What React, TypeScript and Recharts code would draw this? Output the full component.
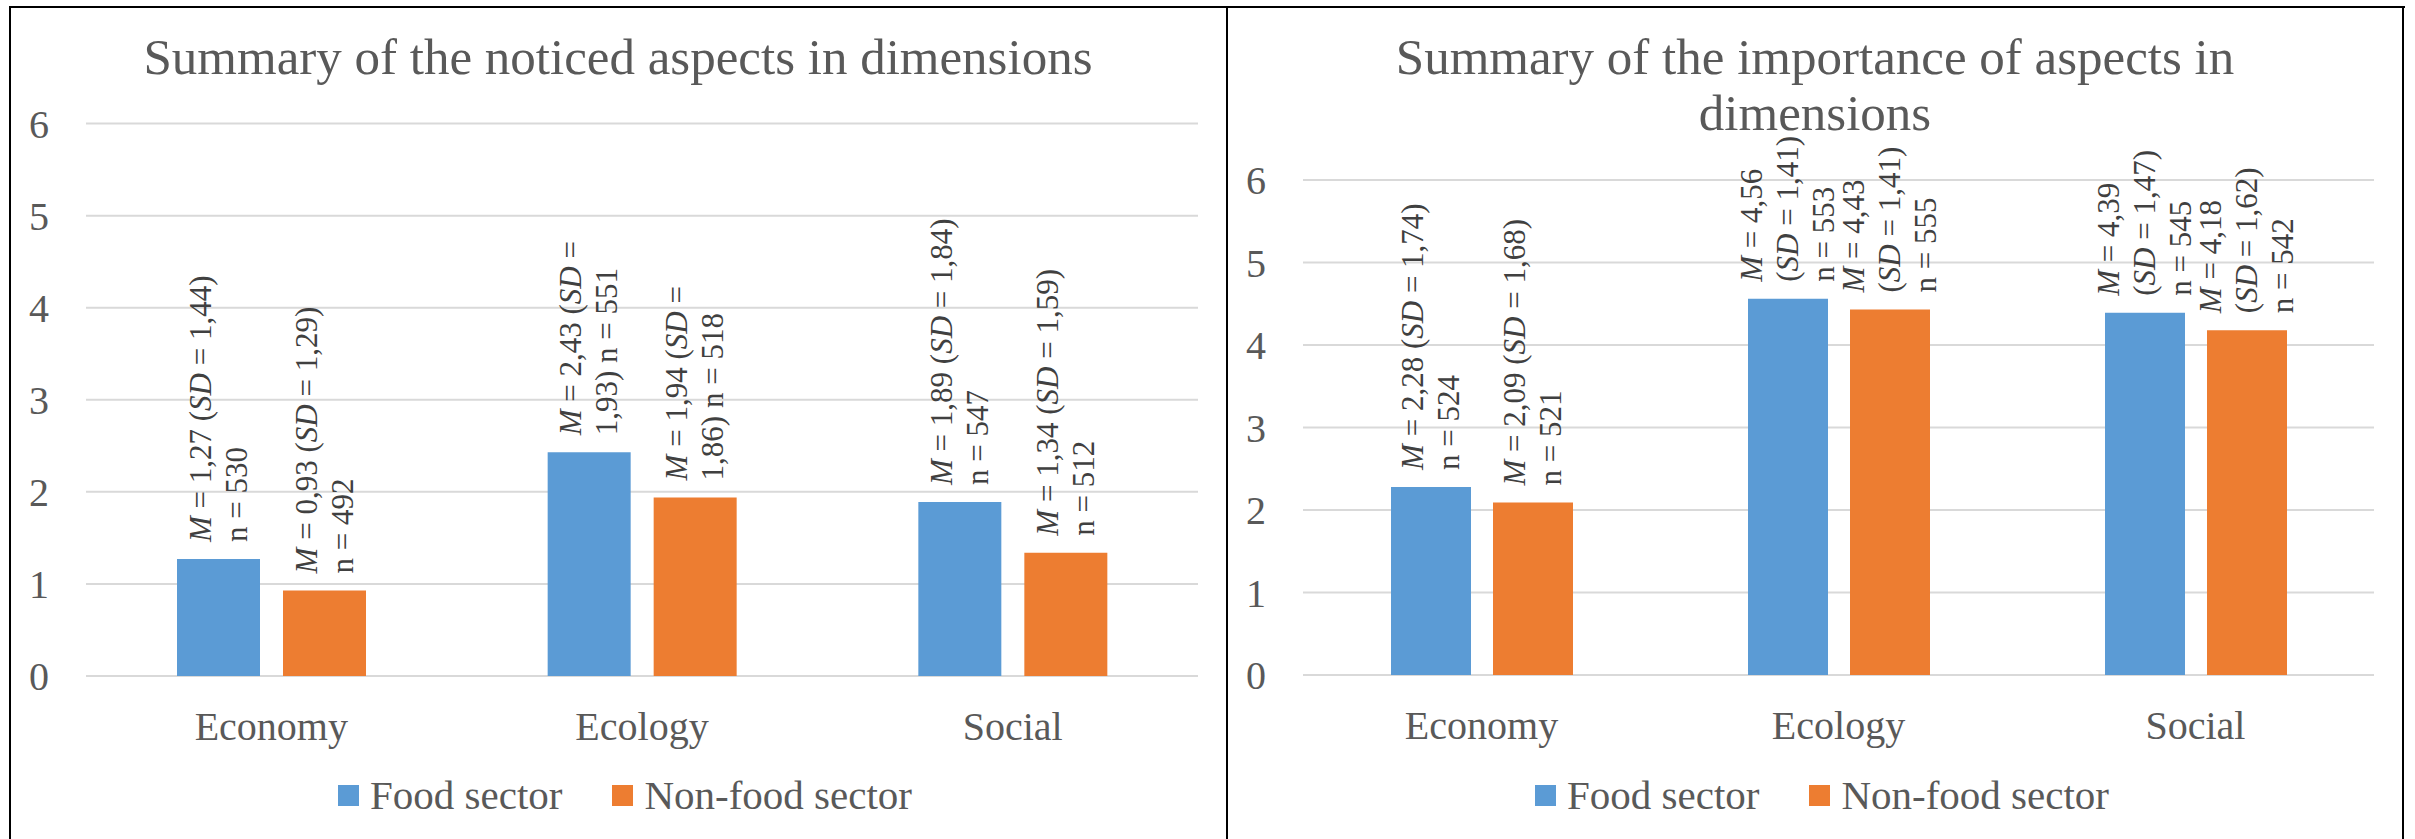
import React from 'react'
import { BarChart, Bar, XAxis, YAxis, CartesianGrid, Legend, LabelList } from 'recharts'

const categories = ['Economy', 'Ecology', 'Social']
const yTicks = [0, 1, 2, 3, 4, 5, 6]

// noticed aspects
const noticedFoodMean = [1.27, 2.43, 1.89]
const noticedFoodSd = [1.44, 1.93, 1.84]
const noticedFoodN = [530, 551, 547]
const noticedNonFoodMean = [0.93, 1.94, 1.34]
const noticedNonFoodSd = [1.29, 1.86, 1.59]
const noticedNonFoodN = [492, 518, 512]

// importance of aspects
const importanceFoodMean = [2.28, 4.56, 4.39]
const importanceFoodSd = [1.74, 1.41, 1.47]
const importanceFoodN = [524, 553, 545]
const importanceNonFoodMean = [2.09, 4.43, 4.18]
const importanceNonFoodSd = [1.68, 1.41, 1.62]
const importanceNonFoodN = [521, 555, 542]

// how the label text wraps per category
const noticedWrap = ['two', 'split', 'two']
const importanceWrap = ['two', 'three', 'three']

const FONT = '"Liberation Serif", "Times New Roman", serif'
const TEXT = '#595959'
const LABEL_TEXT = '#404040'
const BLUE = '#5B9BD5'
const ORANGE = '#ED7D31'
const GRID = '#D9D9D9'

const LABEL_FONT = 31
const LINE_GAP = 36
const LABEL_OFFSET = 17

const fmt = (v: number) => v.toFixed(2).replace('.', ',')

type Seg = { t: string; it?: boolean }

function labelLines(m: number, sd: number, n: number, wrap: string): Seg[][] {
  const M = { t: 'M', it: true }
  const SD = { t: 'SD', it: true }
  if (wrap === 'split') {
    return [[M, { t: ` = ${fmt(m)} (` }, SD, { t: ' =' }], [{ t: `${fmt(sd)}) n = ${n}` }]]
  }
  if (wrap === 'three') {
    return [[M, { t: ` = ${fmt(m)}` }], [{ t: '(' }, SD, { t: ` = ${fmt(sd)})` }], [{ t: `n = ${n}` }]]
  }
  return [[M, { t: ` = ${fmt(m)} (` }, SD, { t: ` = ${fmt(sd)})` }], [{ t: `n = ${n}` }]]
}

// rotated multi-line label sitting on top of a bar
const makeLabel = (means: number[], sds: number[], ns: number[], wrap: string[]) => (props: any) => {
  const vb = props.viewBox || props
  const x = vb.x ?? props.x
  const y = vb.y ?? props.y
  const width = vb.width ?? props.width
  const i = props.index
  const lines = labelLines(means[i], sds[i], ns[i], wrap[i])
  const cx = x + width / 2
  const v0 = LABEL_FONT * 0.33 - ((lines.length - 1) * LINE_GAP) / 2
  return (
    <text
      transform={`translate(${cx},${y - LABEL_OFFSET}) rotate(-90)`}
      fontFamily={FONT}
      fontSize={LABEL_FONT}
      fill={LABEL_TEXT}
      style={{ whiteSpace: 'pre' }}
    >
      {lines.map((segs, li) => (
        <tspan key={li} x={0} y={v0 + li * LINE_GAP}>
          {segs.map((s, si) => (
            <tspan key={si} fontStyle={s.it ? 'italic' : undefined}>{s.t}</tspan>
          ))}
        </tspan>
      ))}
    </text>
  )
}

const renderLegend = (props: any) => (
  <div
    style={{
      display: 'flex',
      justifyContent: 'center',
      alignItems: 'center',
      height: 40,
      paddingLeft: 14,
      fontFamily: FONT,
      fontSize: 41,
      color: TEXT,
    }}
  >
    {(props.payload || []).map((entry: any, i: number) => (
      <div key={entry.value} style={{ display: 'flex', alignItems: 'center', marginLeft: i ? 50 : 0 }}>
        <span style={{ display: 'inline-block', width: 21, height: 21, background: entry.color, marginRight: 11 }} />
        <span style={{ lineHeight: '40px' }}>{entry.value}</span>
      </div>
    ))}
  </div>
)

interface PanelProps {
  title: string[]
  left: number
  width: number
  food: number[]
  foodSd: number[]
  foodN: number[]
  nonFood: number[]
  nonFoodSd: number[]
  nonFoodN: number[]
  wrap: string[]
  top: number
  yAxisWidth: number
  xAxisHeight: number
  barSize: number
  barGap: number
}

function Panel(p: PanelProps) {
  const data = categories.map((name, i) => ({ name, food: p.food[i], nonFood: p.nonFood[i] }))
  return (
    <>
      <div
        style={{
          position: 'absolute',
          left: p.left,
          top: 29,
          width: p.width,
          textAlign: 'center',
          fontFamily: FONT,
          fontSize: 51,
          lineHeight: '56px',
          color: TEXT,
        }}
      >
        {p.title.map((t) => (
          <div key={t}>{t}</div>
        ))}
      </div>
      <div style={{ position: 'absolute', left: p.left, top: 8 }}>
        <BarChart
          width={p.width}
          height={831}
          data={data}
          margin={{ top: p.top, right: 28, bottom: 24, left: 0 }}
          barSize={p.barSize}
          barGap={p.barGap}
        >
          <CartesianGrid vertical={false} stroke={GRID} strokeWidth={2} />
          <XAxis
            dataKey="name"
            axisLine={false}
            tickLine={false}
            tickSize={0}
            tickMargin={36}
            height={p.xAxisHeight}
            tick={{ fontSize: 40, fill: TEXT, fontFamily: FONT }}
          />
          <YAxis
            domain={[0, 6]}
            ticks={yTicks}
            interval={0}
            axisLine={false}
            tickLine={false}
            tickSize={0}
            tickMargin={37}
            width={p.yAxisWidth}
            tick={{ fontSize: 40, fill: TEXT, fontFamily: FONT }}
          />
          <Legend verticalAlign="bottom" content={renderLegend} wrapperStyle={{ left: 0, width: p.width }} />
          <Bar dataKey="food" name="Food sector" fill={BLUE} isAnimationActive={false}>
            <LabelList dataKey="food" content={makeLabel(p.food, p.foodSd, p.foodN, p.wrap)} />
          </Bar>
          <Bar dataKey="nonFood" name="Non-food sector" fill={ORANGE} isAnimationActive={false}>
            <LabelList dataKey="nonFood" content={makeLabel(p.nonFood, p.nonFoodSd, p.nonFoodN, p.wrap)} />
          </Bar>
        </BarChart>
      </div>
    </>
  )
}

export default function App() {
  const line = { position: 'absolute' as const, background: '#000' }
  return (
    <div style={{ position: 'absolute', left: 0, top: 0, width: 2415, height: 839, overflow: 'hidden', background: '#fff' }}>
      <Panel
        title={['Summary of the noticed aspects in dimensions']}
        left={10}
        width={1216}
        food={noticedFoodMean}
        foodSd={noticedFoodSd}
        foodN={noticedFoodN}
        nonFood={noticedNonFoodMean}
        nonFoodSd={noticedNonFoodSd}
        nonFoodN={noticedNonFoodN}
        wrap={noticedWrap}
        top={115.6}
        yAxisWidth={76}
        xAxisHeight={99}
        barSize={83}
        barGap={23}
      />
      <Panel
        title={['Summary of the importance of aspects in', 'dimensions']}
        left={1228}
        width={1174}
        food={importanceFoodMean}
        foodSd={importanceFoodSd}
        foodN={importanceFoodN}
        nonFood={importanceNonFoodMean}
        nonFoodSd={importanceNonFoodSd}
        nonFoodN={importanceNonFoodN}
        wrap={importanceWrap}
        top={172}
        yAxisWidth={75}
        xAxisHeight={100}
        barSize={80}
        barGap={22}
      />
      {/* frame around the two panels */}
      <div style={{ ...line, left: 9, top: 6, width: 2396, height: 2 }} />
      <div style={{ ...line, left: 9, top: 6, width: 2, height: 833 }} />
      <div style={{ ...line, left: 1226, top: 6, width: 2, height: 833 }} />
      <div style={{ ...line, left: 2402, top: 6, width: 2, height: 833 }} />
    </div>
  )
}
